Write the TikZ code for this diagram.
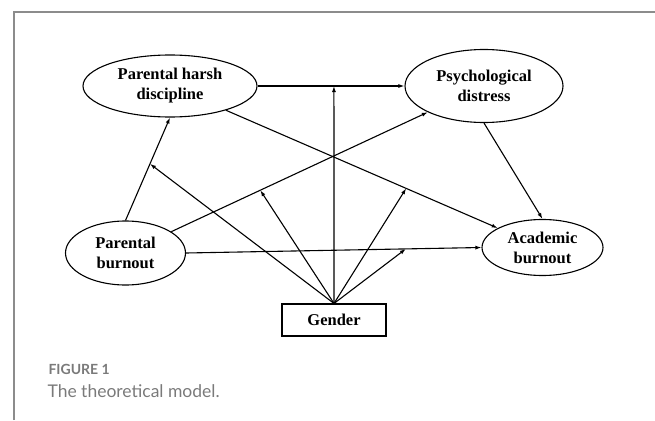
\documentclass[tikz,border=0pt]{standalone}
\usepackage{fontspec}
\setmainfont{Liberation Serif}
\newfontfamily\capfont{Lato}
\usetikzlibrary{arrows.meta,shapes.geometric}
\definecolor{capgray}{HTML}{7A7A7A}
\definecolor{framegray}{HTML}{8C8C8C}

\begin{document}
\begin{tikzpicture}[x=1pt,y=-1pt,>={Latex[length=6pt,width=4pt]},line width=1.1pt,
  lat/.style={draw,ellipse,inner sep=0pt,align=center,
    font=\fontsize{16.5}{20}\selectfont\bfseries},
  obs/.style={draw,rectangle,minimum width=104pt,minimum height=32pt,
    font=\fontsize{16.5}{20}\selectfont\bfseries}]
  \useasboundingbox (0,0) rectangle (655,420);
  \draw[framegray,line width=1.2pt] (14,420) -- (14,12) -- (655,12);
  % variables
  \node[lat,minimum width=174pt,minimum height=62pt] (phd) at (170,86) {Parental harsh\\discipline};
  \node[lat,minimum width=158pt,minimum height=73pt] (pd) at (484,86) {Psychological\\distress};
  \node[lat,minimum width=120pt,minimum height=64pt] (pb) at (125.5,253) {Parental\\burnout};
  \node[lat,minimum width=121pt,minimum height=56pt] (ab) at (542.5,247.5) {Academic\\burnout};
  \node[obs] (gen) at (334,320) {Gender};
  % paths
  \draw[->] (pb.north) -- coordinate[pos=0.55] (m1) (phd.south);
  \draw[->] (pb) -- coordinate[pos=0.347] (m2) (pd);
  \draw[->] (phd.east) -- coordinate[pos=0.52] (m3) (pd.west);
  \draw[->] (phd) -- coordinate[pos=0.663] (m4) (ab);
  \draw[->] (pd.south) -- (ab.north);
  \draw[->] (pb.east) -- coordinate[pos=0.744] (m5) (ab.west);
  % moderation
  \foreach \m in {m1,m2,m3,m4,m5}
    \draw[->] (gen.north) -- (\m);
  % caption
  \node[anchor=base west,inner sep=0pt,text=capgray,
    font=\fontsize{14}{16}\selectfont\capfont\bfseries] (fig) at (48,374) {FIGURE 1};
  \node[anchor=base west,inner sep=0pt,text=capgray,
    font=\fontsize{17.5}{20}\selectfont\capfont] (cap) at (47,397) {The theoretical model.};
\end{tikzpicture}
\end{document}
